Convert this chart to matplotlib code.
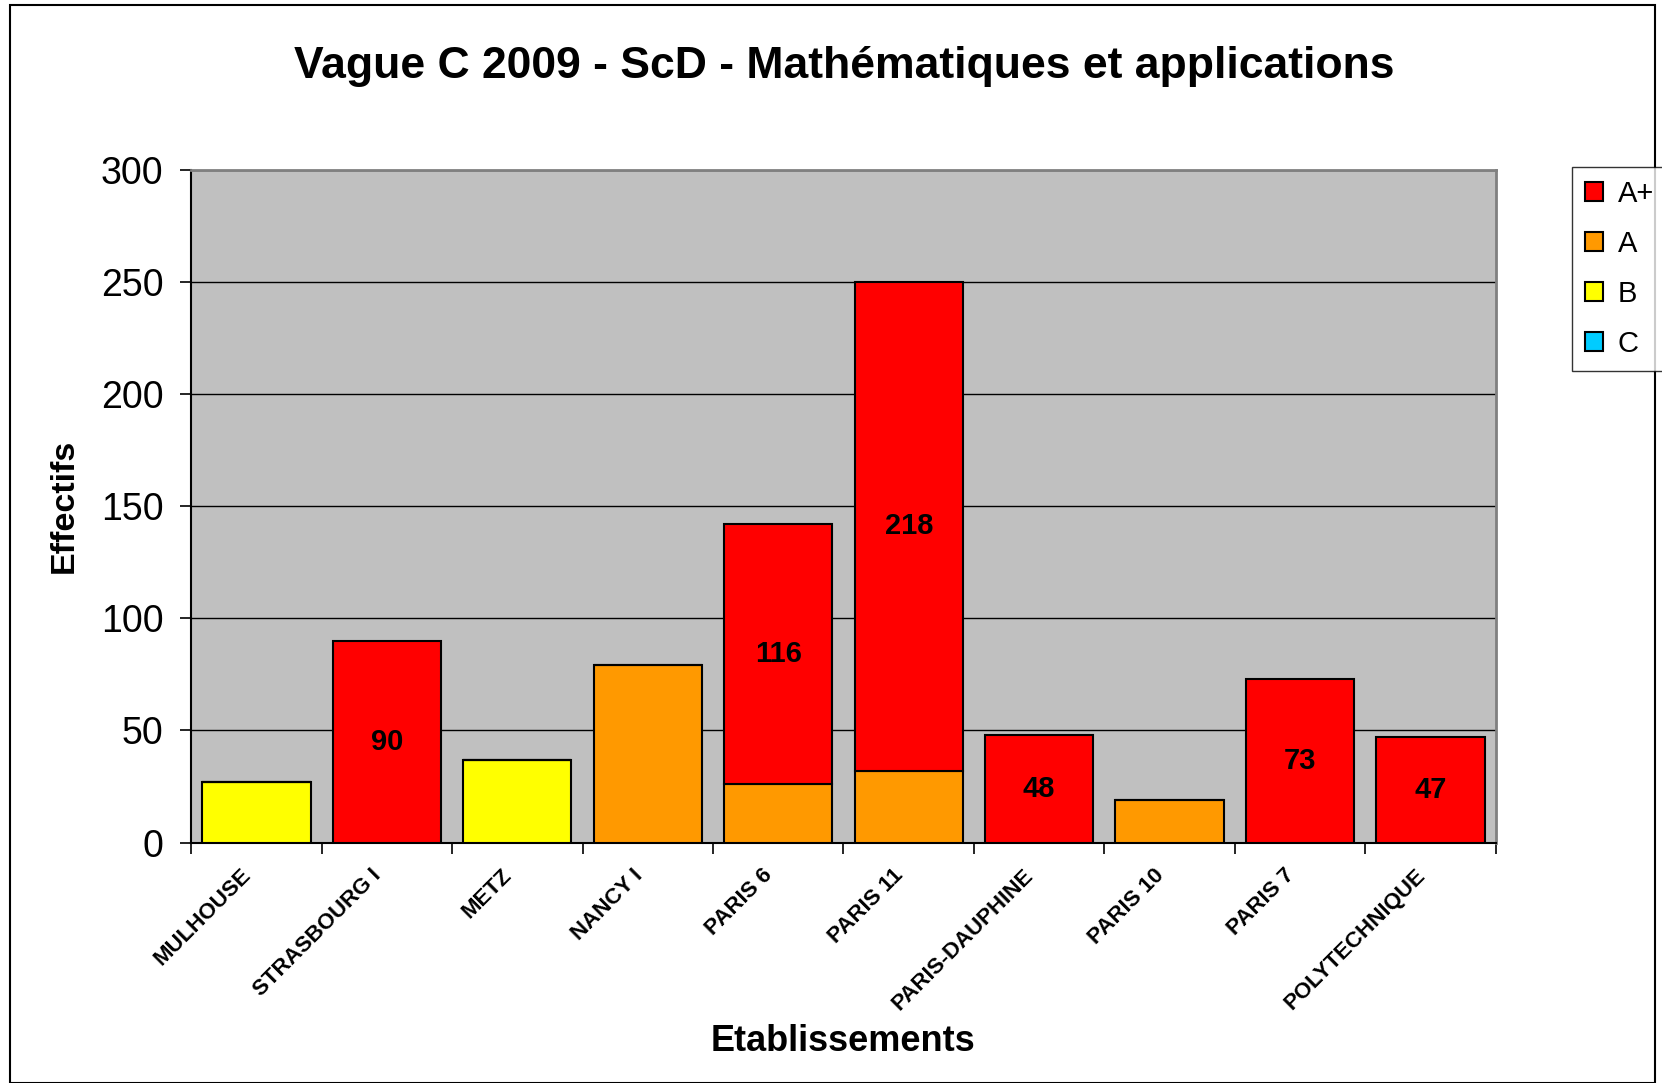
import matplotlib
matplotlib.use("Agg")
from matplotlib import pyplot as plt
from matplotlib.patches import Rectangle
from matplotlib.transforms import ScaledTranslation
import numpy as np

plt.rcParams['font.family'] = ['Liberation Sans', 'DejaVu Sans']

# Data
etabs = ["MULHOUSE", "STRASBOURG I", "METZ", "NANCY I", "PARIS 6", "PARIS 11",
         "PARIS-DAUPHINE", "PARIS 10", "PARIS 7", "POLYTECHNIQUE"]
a_plus = [0, 90, 0, 0, 116, 218, 48, 0, 73, 47]
a_vals = [0, 0, 0, 79, 26, 32, 0, 19, 0, 0]
b_vals = [27, 0, 37, 0, 0, 0, 0, 0, 0, 0]
c_vals = [0, 0, 0, 0, 0, 0, 0, 0, 0, 0]

colors = {"A+": "#FF0000", "A": "#FF9900", "B": "#FFFF00", "C": "#00CCFF"}

fig = plt.figure(figsize=(16.62, 10.83), dpi=100)
ax = fig.add_axes([0.115, 0.222, 0.785, 0.621])
ax.set_facecolor("#C0C0C0")

x = np.arange(len(etabs))
w = 0.83
bottom = np.zeros(len(etabs))
bars = {}
for name, vals in [("C", c_vals), ("B", b_vals), ("A", a_vals), ("A+", a_plus)]:
    vals = np.array(vals)
    bars[name] = ax.bar(x, vals, w, bottom=bottom, color=colors[name],
                        edgecolor="black", linewidth=1.5, zorder=3, label=name)
    bottom += vals

# labels on the A+ segments only
for i, v in enumerate(a_plus):
    if v > 0:
        base = a_vals[i] + b_vals[i] + c_vals[i]
        ax.text(x[i], base + v / 2, str(v), ha="center", va="center",
                fontsize=21, fontweight="bold", zorder=4)

ax.set_ylim(0, 300)
ax.set_xlim(-0.5, len(etabs) - 0.5)
ax.set_yticks(range(0, 301, 50))
ax.yaxis.grid(True, color="black", linewidth=1, zorder=1)
ax.tick_params(axis="y", labelsize=27, direction="out", length=8, width=1.2, pad=12)

ax.set_xticks(x)
ax.set_xticklabels(etabs, rotation=45, ha="right", rotation_mode="anchor",
                   fontsize=16, fontweight="bold")
ax.tick_params(axis="x", length=0, pad=16)
shift = ScaledTranslation(-0.16, 0, fig.dpi_scale_trans)
for lab in ax.get_xticklabels():
    lab.set_transform(lab.get_transform() + shift)
ax.set_xticks(np.arange(-0.5, len(etabs), 1), minor=True)
ax.tick_params(axis="x", which="minor", length=8, width=1.2, direction="out")

for s in ["top", "right"]:
    ax.spines[s].set_color("#808080")
    ax.spines[s].set_linewidth(2)
ax.spines["left"].set_linewidth(1.5)
ax.spines["bottom"].set_linewidth(1.5)

ax.set_xlabel("Etablissements", fontsize=26, fontweight="bold")
ax.set_ylabel("Effectifs", fontsize=24.5, fontweight="bold")
ax.xaxis.set_label_coords(0.5, -0.27)
ax.yaxis.set_label_coords(-0.0855, 0.5)

fig.text(0.508, 0.939, "Vague C 2009 - ScD - Mathématiques et applications",
         ha="center", va="center", fontsize=32, fontweight="bold")

handles = [bars["A+"], bars["A"], bars["B"], bars["C"]]
leg = fig.legend(handles, ["A+", "A", "B", "C"], loc="upper left",
                 bbox_to_anchor=(0.946, 0.846), fontsize=21, frameon=True,
                 fancybox=False, edgecolor="black", handlelength=0.6,
                 handleheight=0.6, handletextpad=0.5, labelspacing=0.75,
                 borderpad=0.45, borderaxespad=0)
leg.get_frame().set_linewidth(1)

fig.patches.append(Rectangle((0.006, 0.0), 0.99, 0.995, transform=fig.transFigure,
                             fill=False, edgecolor="black", linewidth=1.5))

fig.savefig("out.png", dpi=100)
